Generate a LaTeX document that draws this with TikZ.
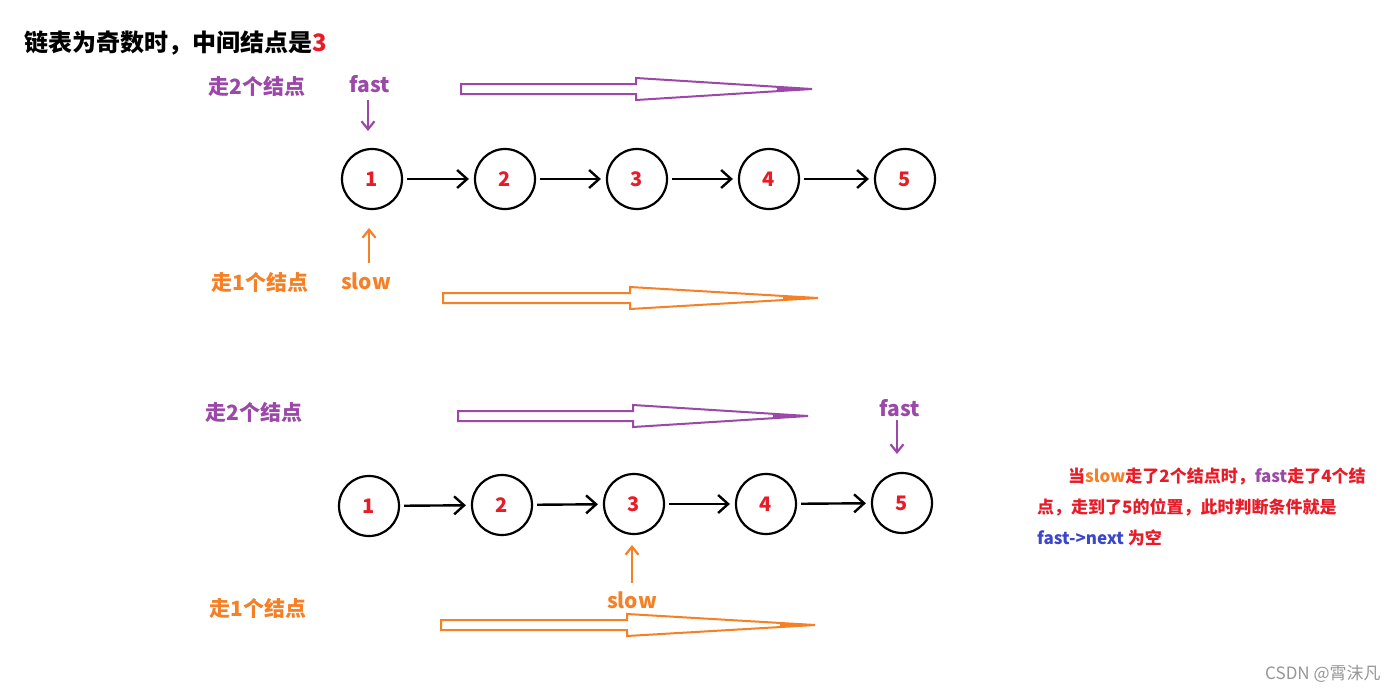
\documentclass[tikz,border=0pt]{standalone}
\usepackage{fontspec}
\setmainfont{Noto Sans CJK SC}
\usetikzlibrary{arrows.meta}
\definecolor{pur}{RGB}{155,72,168}
\definecolor{ora}{RGB}{245,128,38}
\definecolor{rd}{RGB}{232,28,40}
\definecolor{bl}{RGB}{60,70,200}
\definecolor{gr}{RGB}{150,150,150}
\tikzset{
  lnode/.style={circle,draw=black,line width=2.2pt,minimum size=60pt,inner sep=0pt,text=rd,font=\fontsize{20}{20}\selectfont\bfseries},
  link/.style={line width=2.4pt,-{Straight Barb[length=10pt,width=18pt,line width=2.4pt]},shorten <=4pt,shorten >=5pt},
  ptr/.style={line width=2.2pt,-{Straight Barb[length=8pt,width=13pt,line width=2.2pt]}},
  lab/.style={font=\fontsize{21}{21}\selectfont\bfseries,inner sep=0pt},
  txt/.style={font=\fontsize{17}{17}\selectfont\bfseries,inner sep=0pt,anchor=west},
  hollow/.style={line width=2pt,line join=miter}
}
\newcommand{\hollowarrow}[5]{% color, x0, xh, xt, y
  \draw[hollow,draw=#1] (#2,#5-5) -- (#3,#5-5) -- (#3,#5-11) -- (#4,#5) -- (#3,#5+11) -- (#3,#5+5) -- (#2,#5+5) -- cycle;
  \draw[#1,line width=2.5pt] (#4-35,#5) -- (#4,#5);
}
\begin{document}
\begin{tikzpicture}[x=1pt,y=-1pt]
\useasboundingbox (0,0) rectangle (1400,691);
% title
\node[anchor=west,inner sep=0pt,font=\fontsize{24}{24}\selectfont\bfseries] (title) at (24,43) {链表为奇数时，中间结点是\textcolor{rd}{3}};
% ---------- top ----------
\node[lab,text=pur] (t2) at (257,86) {走2个结点};
\node[lab,text=pur] (tf) at (370,84) {fast};
\node[lnode] (a1) at (372,179) {1};
\node[lnode] (a2) at (505,179) {2};
\node[lnode] (a3) at (637,179) {3};
\node[lnode] (a4) at (769,179) {4};
\node[lnode] (a5) at (905,179) {5};
\draw[link] (a1) -- (a2);
\draw[link] (a2) -- (a3);
\draw[link] (a3) -- (a4);
\draw[link] (a4) -- (a5);
\coordinate (tfs) at (368,100);
\coordinate (tfe) at (368,131);
\draw[ptr,pur] (tfs) -- (tfe);
\coordinate (ts) at (369,263);
\coordinate (tse) at (369,228);
\draw[ptr,ora] (ts) -- (tse);
\node[lab,text=ora] (tslow) at (366,281) {slow};
\node[lab,text=ora] (t1) at (260,282) {走1个结点};
\hollowarrow{pur}{461}{636}{812}{89}
\hollowarrow{ora}{443}{630}{818}{298}
% ---------- bottom ----------
\node[lab,text=pur] (b2) at (254,412) {走2个结点};
\hollowarrow{pur}{458}{633}{808}{416}
\node[lab,text=pur] (bf) at (900,408) {fast};
\node[lnode] (b1) at (369,506) {1};
\node[lnode] (bb2) at (502,505) {2};
\node[lnode] (b3) at (634,504) {3};
\node[lnode] (b4) at (766,504) {4};
\node[lnode] (b5) at (902,503) {5};
\draw[link] (b1) -- (bb2);
\draw[link] (bb2) -- (b3);
\draw[link] (b3) -- (b4);
\draw[link] (b4) -- (b5);
\coordinate (bfs) at (897,420);
\coordinate (bfe) at (897,454);
\draw[ptr,pur] (bfs) -- (bfe);
\coordinate (bss) at (632,583);
\coordinate (bse) at (632,545);
\draw[ptr,ora] (bss) -- (bse);
\node[lab,text=ora] (bslow) at (632,600) {slow};
\node[lab,text=ora] (b1l) at (258,608) {走1个结点};
\hollowarrow{ora}{441}{627}{815}{625}
% ---------- note ----------
\node[txt] (n1) at (1068,476) {\textcolor{rd}{当}\textcolor{ora}{slow}\textcolor{rd}{走了2个结点时，}\textcolor{pur}{fast}\textcolor{rd}{走了4个结}};
\node[txt,text=rd] (n2) at (1037,507) {点，走到了5的位置，此时判断条件就是};
\node[txt] (n3) at (1037,538) {\textcolor{bl}{fast->next} \textcolor{rd}{为空}};
\node[anchor=west,inner sep=0pt,text=gr,font=\fontsize{17}{17}\selectfont] (wm) at (1265,674) {CSDN @霄沫凡};
\end{tikzpicture}
\end{document}
